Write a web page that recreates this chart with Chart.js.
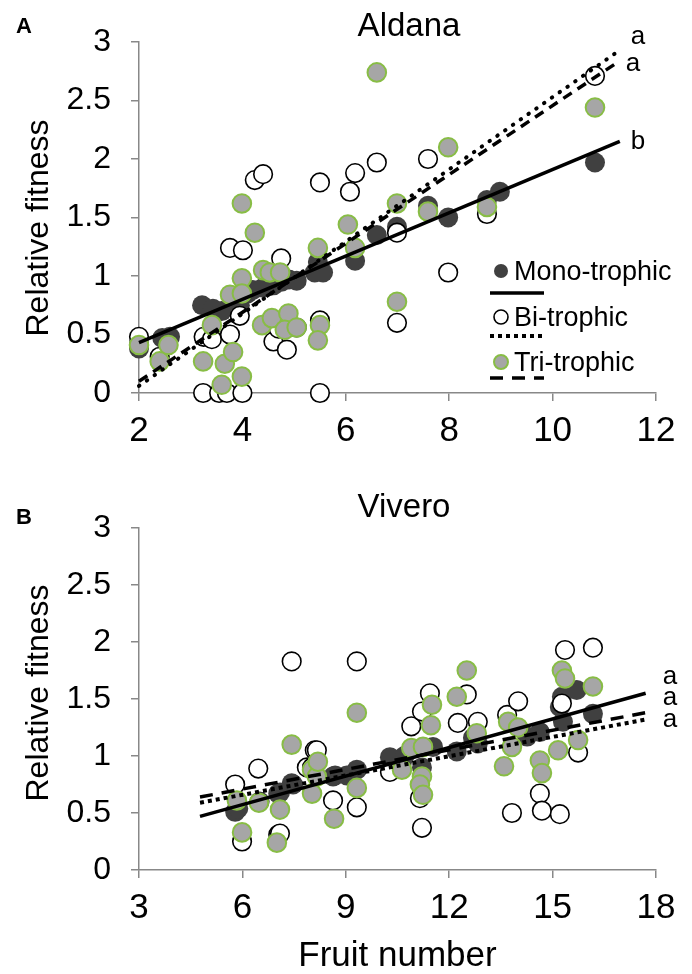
<!DOCTYPE html>
<html>
<head>
<meta charset="utf-8">
<script src="https://cdn.jsdelivr.net/npm/chart.js@4.4.0/dist/chart.umd.min.js"></script>
<style>
body{margin:0;background:#fff;width:692px;height:974px;position:relative;overflow:hidden;font-family:"Liberation Sans",Arial,sans-serif}
canvas{position:absolute;left:0}
#cA{top:0}
#cB{top:460px}
.tag{position:absolute;font-weight:bold;font-size:22px;line-height:22px}
</style>
</head>
<body>
<canvas id="cA" width="692" height="460"></canvas>
<canvas id="cB" width="692" height="514"></canvas>
<div class="tag" style="left:16px;top:15px">A</div>
<div class="tag" style="left:16px;top:506px">B</div>
<script>
// --- panel A (Aldana) points: [fruit number, relative fitness]
const monoA = [[2.0,0.38],[2.0,0.42],[2.45,0.47],[2.6,0.48],[3.22,0.75],[3.43,0.72],[3.6,0.7],[3.95,0.75],
  [4.1,0.85],[4.2,0.88],[4.4,0.9],[4.6,0.92],[4.75,0.95],[4.9,0.97],[5.05,0.96],[5.4,1.03],[5.46,1.12],
  [5.56,1.03],[6.18,1.13],[6.6,1.35],[6.99,1.42],[7.59,1.6],[7.98,1.5],[8.73,1.65],[8.98,1.72],[10.82,1.97]];
const biA = [[2.0,0.48],[2.4,0.31],[3.25,0.48],[3.41,0.46],[3.76,0.5],[3.95,0.66],[3.76,1.24],[4.01,1.22],
  [4.24,1.82],[4.4,1.87],[4.75,1.15],[4.6,0.44],[4.86,0.37],[4.7,0.55],[5.05,0.56],[5.5,1.8],[5.5,0.62],
  [3.24,0],[3.55,0],[3.7,0],[4.0,0],[5.5,0],[6.08,1.72],[6.18,1.88],[6.6,1.97],[6.99,1.37],[6.99,0.6],
  [7.59,2.0],[7.98,1.03],[8.73,1.53],[10.82,2.71]];
const triA = [[2.0,0.41],[2.4,0.27],[2.57,0.41],[3.24,0.27],[3.41,0.58],[3.6,0.07],[3.66,0.25],[3.82,0.35],
  [3.99,0.14],[3.99,1.62],[4.24,1.37],[3.99,0.98],[3.76,0.84],[3.99,0.85],[4.4,1.05],[4.53,1.03],[4.73,1.03],
  [4.38,0.58],[4.57,0.64],[4.89,0.68],[4.82,0.54],[5.05,0.56],[5.46,1.24],[5.5,0.58],[5.46,0.45],[6.04,1.44],
  [6.18,1.24],[6.6,2.74],[6.99,1.62],[6.99,0.78],[7.59,1.55],[7.98,2.10],[8.73,1.59],[10.82,2.44]];
// regression lines (end points)
const fitMonoA = [[2,0.43],[11.3,2.15]];
const fitBiA = [[2,0.06],[11.3,2.93]];
const fitTriA = [[2,0.1],[11.2,2.81]];
const lettersA = ['b','a','a']; // mono, bi, tri

// --- panel B (Vivero)
const monoB = [[5.79,0.51],[5.88,0.54],[6.5,0.6],[7.04,0.67],[7.09,0.68],[7.43,0.76],[7.47,0.75],[8.63,0.82],
  [8.69,0.83],[9.03,0.83],[9.32,0.88],[10.28,0.99],[10.63,0.95],[10.7,1.0],[11.21,0.9],[11.53,1.08],[12.22,1.04],
  [12.69,1.16],[12.83,1.11],[14.26,1.17],[14.63,1.21],[15.21,1.43],[15.27,1.52],[15.3,1.3],[15.7,1.58],[16.17,1.37]];
const biB = [[5.79,0.75],[5.99,0.25],[6.46,0.89],[7.04,0.31],[7.09,0.32],[7.43,1.83],[7.87,0.9],[8.1,1.05],
  [8.16,1.05],[8.02,0.9],[8.63,0.61],[9.32,1.83],[9.32,0.55],[10.28,0.86],[10.9,1.26],[11.21,1.39],[11.44,1.55],
  [11.21,0.37],[11.15,0.63],[12.25,1.29],[12.51,1.54],[12.83,1.3],[13.68,1.36],[13.82,0.5],[14.0,1.48],
  [14.63,0.67],[14.69,0.52],[15.21,0.49],[15.27,1.46],[15.36,1.93],[15.74,1.03],[16.17,1.95]];
const triB = [[5.84,0.61],[5.99,0.33],[6.48,0.59],[7.0,0.24],[7.09,0.53],[7.43,1.1],[8.02,0.88],[8.02,0.67],
  [8.16,0.82],[8.19,0.95],[8.66,0.45],[9.32,1.38],[9.32,0.72],[10.63,0.88],[10.9,1.07],[11.24,1.08],[11.21,0.82],
  [11.15,0.75],[11.24,0.66],[11.47,1.27],[11.5,1.45],[12.22,1.52],[12.51,1.75],[12.8,1.2],[13.59,0.91],
  [13.71,1.3],[13.82,1.08],[14.0,1.25],[14.63,0.96],[14.69,0.85],[15.16,1.05],[15.27,1.75],[15.36,1.68],
  [15.74,1.14],[16.17,1.61]];
const fitMonoB = [[4.77,0.47],[17.7,1.55]];
const fitBiB = [[4.77,0.59],[17.7,1.32]];
const fitTriB = [[4.77,0.64],[17.7,1.38]];
const lettersB = ['a','a','a'];

const legendLabels = ['Mono-trophic','Bi-trophic','Tri-trophic'];

const FONT = '"Liberation Sans", Arial, sans-serif';
Chart.defaults.font.family = FONT;
Chart.defaults.color = '#000';

const AXIS = '#888888';
const DARK = '#404040';
const GREY = '#a6a6a6';
const GREEN = '#88bd45';

const pts = (arr) => arr.map(p => ({x: p[0], y: p[1]}));

//dot styles for each group
const monoStyle = {pointRadius: 10, pointBackgroundColor: DARK, pointBorderColor: DARK, pointBorderWidth: 0};
const biStyle = {pointRadius: 9.3, pointBackgroundColor: '#fff', pointBorderColor: '#000', pointBorderWidth: 1.6};
const triStyle = {pointRadius: 9.3, pointBackgroundColor: GREY, pointBorderColor: GREEN, pointBorderWidth: 2};

// draws title, y title, end-of-line letters and (panel A) the legend
const extras = {
  id: 'extras',
  afterDatasetsDraw(chart, args, opts) {
    const ctx = chart.ctx;
    const xs = chart.scales.x, ys = chart.scales.y;
    ctx.save();
    ctx.fillStyle = '#000';
    ctx.font = '33px ' + FONT;
    ctx.textAlign = 'center';
    ctx.textBaseline = 'alphabetic';
    ctx.fillText(opts.title, opts.titleX, opts.titleY);

    // y axis title, rotated
    ctx.save();
    ctx.translate(opts.yTitle[0], opts.yTitle[1]);
    ctx.rotate(-Math.PI / 2);
    ctx.font = '32px ' + FONT;
    ctx.fillText('Relative fitness', 0, 0);
    ctx.restore();

    // letters next to the line ends
    ctx.font = '26px ' + FONT;
    ctx.textAlign = 'left';
    ctx.textBaseline = 'middle';
    opts.lineIdx.forEach((di, k) => {
      const d = chart.data.datasets[di].data;
      const end = d[d.length - 1];
      ctx.fillText(opts.letters[k], xs.getPixelForValue(end.x) + opts.dx, ys.getPixelForValue(end.y) + opts.dy[k]);
    });

    if (opts.legend) {
      const L = opts.legend;
      const styles = [monoStyle, biStyle, triStyle];
      const dashes = [[], [4, 4], [13, 9]];
      legendLabels.forEach((lab, i) => {
        const s = styles[i];
        ctx.beginPath();
        ctx.arc(L.mx, L.my[i], 7, 0, Math.PI * 2);
        ctx.fillStyle = s.pointBackgroundColor;
        ctx.fill();
        if (s.pointBorderWidth) {
          ctx.lineWidth = s.pointBorderWidth;
          ctx.strokeStyle = s.pointBorderColor;
          ctx.stroke();
        }
        ctx.fillStyle = '#000';
        ctx.font = '27px ' + FONT;
        ctx.textBaseline = 'alphabetic';
        ctx.fillText(lab, L.tx, L.ty[i]);
        ctx.beginPath();
        ctx.setLineDash(dashes[i]);
        ctx.lineWidth = i === 1 ? 4 : 3.5;
        ctx.strokeStyle = '#000';
        ctx.moveTo(L.lx[0], L.ly[i]);
        ctx.lineTo(L.lx[1], L.ly[i]);
        ctx.stroke();
        ctx.setLineDash([]);
      });
    }
    ctx.restore();
  }
};

const fitLine = (arr, dash, width, cap) => ({
  type: 'line', data: pts(arr), showLine: true, pointRadius: 0, borderColor: '#000',
  borderWidth: width, borderDash: dash, borderCapStyle: cap, fill: false, order: 0, clip: false
});

const makeChart = (id, sets, xr, xAxisH, pad, titleX, extraOpts) => {
  return new Chart(document.getElementById(id), {
    type: 'scatter',
    data: {
      datasets: [
        Object.assign({data: pts(sets.mono), order: 3, clip: false}, monoStyle),
        Object.assign({data: pts(sets.bi), order: 2, clip: false}, biStyle),
        Object.assign({data: pts(sets.tri), order: 1, clip: false}, triStyle),
        fitLine(sets.fits[0], [], 3.5, 'butt'),
        fitLine(sets.fits[1], sets.dot, 4, sets.dotCap),
        fitLine(sets.fits[2], sets.dash, 3.5, 'butt')
      ]
    },
    options: {
      responsive: false,
      animation: false,
      events: [],
      layout: {padding: pad},
      plugins: {legend: {display: false}, tooltip: {enabled: false}, extras: extraOpts},
      scales: {
        x: {
          type: 'linear', min: xr[0], max: xr[1],
          ticks: {stepSize: xr[2], font: {size: 35}, padding: 9, color: '#000'},
          grid: {drawOnChartArea: false, tickLength: 8, color: AXIS, lineWidth: 1.5},
          border: {color: AXIS, width: 1.5},
          title: titleX,
          afterFit(s) { s.height = xAxisH; }
        },
        y: {
          min: 0, max: 3,
          ticks: {stepSize: 0.5, font: {size: 32}, padding: 20, color: '#000', callback: v => String(v)},
          grid: {drawOnChartArea: false, tickLength: 8, color: AXIS, lineWidth: 1.5},
          border: {color: AXIS, width: 1.5},
          afterFit(s) { s.width = 139; }
        }
      }
    },
    plugins: [extras]
  });
};

makeChart('cA',
  {mono: monoA, bi: biA, tri: triA, fits: [fitMonoA, fitBiA, fitTriA], dot: [0.5, 9], dotCap: 'round', dash: [10, 7]},
  [2, 12, 2], 67, {top: 42, right: 36, left: 0, bottom: 0},
  {display: false},
  {title: 'Aldana', titleX: 409, titleY: 36, yTitle: [48, 228], lineIdx: [3, 4, 5], letters: lettersA, dx: 11, dy: [0, -13, 0],
   legend: {mx: 501, my: [271, 317, 362], tx: 514, ty: [280, 326, 371], lx: [490, 544], ly: [293, 336, 378]}});

makeChart('cB',
  {mono: monoB, bi: biB, tri: triB, fits: [fitMonoB, fitBiB, fitTriB], dot: [4, 4], dotCap: 'butt', dash: [13, 9]},
  [3, 18, 3], 104, {top: 68, right: 36, left: 0, bottom: 0},
  {display: true, text: 'Fruit number', font: {size: 35, lineHeight: 1}, padding: {top: 0, bottom: 0}, color: '#000'},
  {title: 'Vivero', titleX: 404, titleY: 57, yTitle: [48, 233], lineIdx: [3, 4, 5], letters: lettersB, dx: 17, dy: [-16, 0, -15], legend: null});
</script>
</body>
</html>
